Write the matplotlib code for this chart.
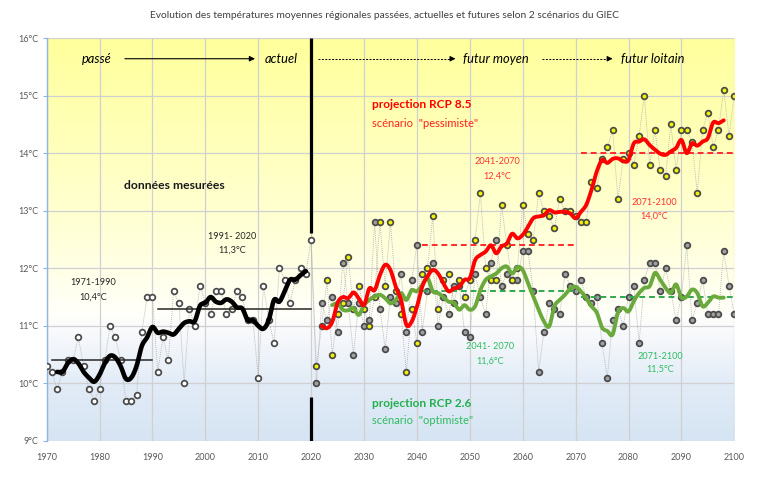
import numpy as np
import matplotlib
matplotlib.use("Agg")
import matplotlib.pyplot as plt

plt.rcParams['font.family'] = ['Lato', 'DejaVu Sans']

# ---------------- data ----------------
past_years = list(range(1970, 2021))
past_vals = [10.3, 10.2, 9.9, 10.2, 10.4, 10.4, 10.8, 10.3, 9.9, 9.7,
             9.9, 10.4, 11.0, 10.8, 10.4, 9.7, 9.7, 9.8, 10.9, 11.5,
             11.5, 10.2, 10.8, 10.4, 11.6, 11.4, 10.0, 11.3, 11.0, 11.7,
             11.4, 11.2, 11.6, 11.6, 11.2, 11.3, 11.6, 11.5, 11.1, 11.1,
             10.1, 11.7, 11.1, 10.7, 12.0, 11.8, 11.4, 11.8, 12.0, 11.9,
             12.5]
past_smooth_years = list(range(1972, 2020))
past_smooth = [10.20, 10.20, 10.35, 10.42, 10.35, 10.20, 10.10, 10.03, 10.15, 10.35,
               10.48, 10.45, 10.30, 10.08, 10.10, 10.30, 10.65, 10.80, 10.98, 10.88,
               10.90, 10.88, 10.85, 10.95, 11.05, 11.08, 11.08, 11.35, 11.40, 11.50,
               11.42, 11.40, 11.46, 11.42, 11.32, 11.30, 11.10, 11.10, 11.00, 10.95,
               11.10, 11.45, 11.42, 11.60, 11.80, 11.80, 11.88, 11.95]

fut_years = list(range(2021, 2101))
rcp85_vals = [10.3, 11.0, 11.8, 10.5, 11.2, 11.4, 12.2, 11.3, 11.7, 11.3,
              11.0, 11.5, 12.8, 11.7, 12.8, 11.6, 11.2, 10.2, 11.3, 10.7,
              11.9, 12.0, 12.9, 11.3, 11.8, 11.9, 11.4, 11.8, 11.5, 11.8,
              12.5, 13.3, 12.0, 11.8, 11.8, 13.1, 12.4, 11.8, 12.0, 13.1,
              12.6, 12.5, 13.3, 13.0, 12.9, 12.7, 13.2, 13.0, 13.0, 12.9,
              12.8, 12.8, 13.5, 13.4, 13.9, 14.1, 14.4, 13.2, 13.9, 14.0,
              13.8, 14.3, 15.0, 13.8, 14.4, 13.7, 13.6, 14.5, 13.7, 14.4,
              14.4, 14.2, 13.3, 14.4, 14.7, 14.1, 14.4, 15.1, 14.3, 15.0]
rcp26_vals = [10.0, 11.4, 11.1, 11.5, 10.9, 12.1, 11.4, 10.5, 11.4, 11.0,
              11.1, 12.8, 11.3, 10.6, 11.5, 11.4, 11.9, 10.9, 11.8, 12.4,
              10.9, 11.6, 12.1, 11.0, 11.5, 11.2, 11.7, 11.7, 10.9, 10.8,
              11.9, 11.5, 11.2, 12.1, 12.5, 11.7, 11.9, 11.8, 11.8, 12.3,
              12.3, 11.6, 10.2, 10.9, 11.4, 11.3, 11.2, 11.9, 11.7, 11.6,
              11.8, 11.5, 11.4, 11.5, 10.7, 10.1, 11.1, 11.3, 11.0, 11.5,
              11.7, 10.7, 11.8, 12.1, 12.1, 11.6, 12.0, 11.6, 11.1, 11.5,
              12.4, 11.1, 11.4, 11.8, 11.2, 11.2, 11.2, 12.3, 11.7, 11.2]

rcp85_smooth_years = list(range(2022, 2099))
rcp85_smooth = [11.00, 10.96, 11.07, 11.40, 11.50, 11.48, 11.58, 11.48, 11.36, 11.65,
                11.62, 11.88, 12.06, 11.97, 11.68, 11.45, 11.02, 11.07, 11.33, 11.68,
                11.86, 11.97, 11.91, 11.74, 11.60, 11.65, 11.68, 11.80, 11.83, 12.14,
                12.23, 12.29, 12.40, 12.26, 12.38, 12.43, 12.60, 12.52, 12.58, 12.72,
                12.87, 12.90, 12.92, 13.01, 12.97, 12.98, 12.98, 12.95, 12.87, 12.98,
                13.10, 13.36, 13.68, 13.88, 13.83, 13.90, 13.91, 13.86, 13.88, 14.17,
                14.20, 14.24, 14.14, 14.06, 13.99, 13.97, 14.03, 14.09, 14.23, 14.00,
                14.17, 14.13, 14.20, 14.26, 14.53, 14.52, 14.57]
rcp26_smooth_years = list(range(2024, 2099))
rcp26_smooth = [11.36, 11.39, 11.28, 11.27, 11.31, 11.19, 11.36, 11.45, 11.51, 11.54,
                11.48, 11.39, 11.45, 11.57, 11.45, 11.62, 11.60, 11.71, 11.83, 11.60,
                11.57, 11.50, 11.42, 11.40, 11.28, 11.36, 11.28, 11.34, 11.62, 11.80,
                11.86, 11.91, 12.00, 12.03, 11.91, 12.02, 11.97, 11.74, 11.51, 11.28,
                11.08, 10.99, 11.34, 11.45, 11.54, 11.65, 11.68, 11.60, 11.48, 11.34,
                11.23, 10.97, 10.91, 10.85, 11.23, 11.31, 11.25, 11.43, 11.57, 11.66,
                11.69, 11.92, 11.80, 11.66, 11.57, 11.72, 11.49, 11.51, 11.63, 11.57,
                11.34, 11.40, 11.51, 11.49, 11.49]

# period means: (start, end, value)
past_means = [(1971, 1990, 10.4), (1991, 2020, 11.3)]
rcp85_means = [(2041, 2070, 12.4), (2071, 2100, 14.0)]
rcp26_means = [(2041, 2070, 11.6), (2071, 2100, 11.5)]

x_ticks = list(range(1970, 2101, 10))
y_ticks = list(range(9, 17))
y_labels = [f"{t}°C" for t in y_ticks]


def catmull(xs, ys, n=12):
    xs = np.asarray(xs, float); ys = np.asarray(ys, float)
    px = np.concatenate([[2*xs[0]-xs[1]], xs, [2*xs[-1]-xs[-2]]])
    py = np.concatenate([[2*ys[0]-ys[1]], ys, [2*ys[-1]-ys[-2]]])
    ox, oy = [], []
    for i in range(1, len(px)-2):
        t = np.linspace(0, 1, n, endpoint=False)
        for P, out in ((px, ox), (py, oy)):
            p0, p1, p2, p3 = P[i-1], P[i], P[i+1], P[i+2]
            out.extend(0.5*((2*p1) + (-p0+p2)*t + (2*p0-5*p1+4*p2-p3)*t**2 + (-p0+3*p1-3*p2+p3)*t**3))
    ox.append(xs[-1]); oy.append(ys[-1])
    return ox, oy


W, H = 769, 493
fig = plt.figure(figsize=(W/100, H/100), dpi=100)
ax = fig.add_axes([46.6/W, (H-441)/H, (734.3-46.6)/W, 403/H])
ax.set_xlim(1970, 2100)
ax.set_ylim(9, 16)

# background gradient
ty = np.linspace(9, 16, 400)
stops_t = [9, 10, 10.8, 11.2, 12.5, 14, 16]
stops_r = [214, 226, 246, 255, 255, 255, 255]
stops_g = [228, 236, 248, 255, 255, 255, 255]
stops_b = [243, 247, 252, 250, 218, 190, 156]
grad = np.stack([np.interp(ty, stops_t, stops_r), np.interp(ty, stops_t, stops_g),
                 np.interp(ty, stops_t, stops_b)], axis=-1)[:, None, :] / 255
ax.imshow(grad, extent=[1970, 2100, 9, 16], origin='lower', aspect='auto', zorder=0,
          interpolation='bilinear')

ax.set_xticks(x_ticks)
ax.set_yticks(y_ticks)
ax.set_yticklabels(y_labels)
ax.grid(True, color='#d0d0d0', lw=0.9)
ax.set_axisbelow(True)
for s in ['top', 'right', 'bottom']:
    ax.spines[s].set_visible(False)
ax.spines['left'].set_color('#8db4e2')
ax.spines['left'].set_linewidth(1.0)
ax.tick_params(axis='y', colors='#8db4e2', length=3, width=0.8, labelsize=6.5, labelcolor='#595959', pad=3)
ax.tick_params(axis='x', length=0, labelsize=6.5, labelcolor='#595959', pad=8.5)

# dotted connecting lines
dot_kw = dict(color='#b4b4b4', lw=0.6, ls=(0, (1.2, 1.2)), zorder=2)
ax.plot(past_years, past_vals, **dot_kw)
ax.plot([2020] + fut_years, [past_vals[-1]] + rcp85_vals, **dot_kw)
ax.plot([2020] + fut_years, [past_vals[-1]] + rcp26_vals, **dot_kw)

mk = dict(ls='none', marker='o', ms=4.1, mew=1.25, mec='#4a4a4a', zorder=3)
ax.plot(past_years, past_vals, mfc='white', **mk)
ax.plot(fut_years, rcp26_vals, mfc='#a0a0a0', **mk)
ax.plot(fut_years, rcp85_vals, mfc='#f2f200', **mk)

# means
for a, b, v in past_means:
    ax.plot([a, b], [v, v], color='#262626', lw=1.1, zorder=4)
for a, b, v in rcp85_means:
    ax.plot([a, b], [v, v], color='#ff2a2a', lw=1.4, ls=(0, (3, 2)), zorder=4)
for a, b, v in rcp26_means:
    ax.plot([a, b], [v, v], color='#2ea84f', lw=1.4, ls=(0, (3, 2)), zorder=4)

# smoothed curves
sx, sy = catmull(past_smooth_years, past_smooth)
ax.plot(sx, sy, color='black', lw=3.3, zorder=5, solid_capstyle='round')
sx, sy = catmull(rcp26_smooth_years, rcp26_smooth)
ax.plot(sx, sy, color='#6aaa3c', lw=2.8, zorder=5, solid_capstyle='round')
sx, sy = catmull(rcp85_smooth_years, rcp85_smooth)
ax.plot(sx, sy, color='#ff0000', lw=2.8, zorder=6, solid_capstyle='round')

# 2020 divider
ax.plot([2020, 2020], [12.62, 16], color='black', lw=2.3, zorder=7, solid_capstyle='butt')
ax.plot([2020, 2020], [9, 9.77], color='black', lw=2.3, zorder=7, solid_capstyle='butt')

# top arrows & labels
ya = 15.64
fs_top = 9.3
ax.text(1979.5, ya, 'passé', style='italic', fontsize=fs_top, ha='center', va='center', color='black')
ax.annotate('', xy=(2009.4, ya), xytext=(1984.8, ya),
            arrowprops=dict(arrowstyle='-|>', color='black', lw=0.8, mutation_scale=8, shrinkA=0, shrinkB=0))
ax.text(2014.3, ya, 'actuel', style='italic', fontsize=fs_top, ha='center', va='center', color='black')
ax.plot([2021.3, 2046.6], [ya, ya], color='black', lw=0.7, ls=(0, (2, 1.5)))
ax.annotate('', xy=(2047.3, ya), xytext=(2046.3, ya),
            arrowprops=dict(arrowstyle='-|>', color='black', lw=0.7, mutation_scale=8, shrinkA=0, shrinkB=0))
ax.text(2055.0, ya, 'futur moyen', style='italic', fontsize=fs_top, ha='center', va='center', color='black')
ax.plot([2063.6, 2076.3], [ya, ya], color='black', lw=0.7, ls=(0, (2, 1.5)))
ax.annotate('', xy=(2077.0, ya), xytext=(2076.0, ya),
            arrowprops=dict(arrowstyle='-|>', color='black', lw=0.7, mutation_scale=8, shrinkA=0, shrinkB=0))
ax.text(2084.6, ya, 'futur loitain', style='italic', fontsize=fs_top, ha='center', va='center', color='black')

# annotations
ax.text(1994.1, 13.43, 'données mesurées', fontsize=8.7, fontweight='bold', ha='center', va='center', color='#1a1a1a')
ax.text(2005.0, 12.55, '1991- 2020', fontsize=6.6, ha='center', va='center', color='#262626')
ax.text(2005.0, 12.32, '11,3°C', fontsize=6.6, ha='center', va='center', color='#262626')
ax.text(1978.8, 11.75, '1971-1990', fontsize=6.6, ha='center', va='center', color='#262626')
ax.text(1978.8, 11.5, '10,4°C', fontsize=6.6, ha='center', va='center', color='#262626')

ax.text(2031.5, 14.84, 'projection RCP 8.5', fontsize=8.6, fontweight='bold', ha='left', va='center', color='#ff0000')
ax.text(2031.5, 14.51, 'scénario  "pessimiste"', fontsize=8.0, ha='left', va='center', color='#ff2020')
ax.text(2055.2, 13.85, '2041-2070', fontsize=6.6, ha='center', va='center', color='#ff3030')
ax.text(2055.2, 13.6, '12,4°C', fontsize=6.6, ha='center', va='center', color='#ff3030')
ax.text(2084.8, 13.14, '2071-2100', fontsize=6.6, ha='center', va='center', color='#ff3030')
ax.text(2084.8, 12.9, '14,0°C', fontsize=6.6, ha='center', va='center', color='#ff3030')

ax.text(2053.8, 10.64, '2041- 2070', fontsize=6.6, ha='center', va='center', color='#2ebc5e')
ax.text(2053.8, 10.39, '11,6°C', fontsize=6.6, ha='center', va='center', color='#2ebc5e')
ax.text(2086.0, 10.46, '2071-2100', fontsize=6.6, ha='center', va='center', color='#2ebc5e')
ax.text(2086.0, 10.24, '11,5°C', fontsize=6.6, ha='center', va='center', color='#2ebc5e')
ax.text(2031.5, 9.66, 'projection RCP 2.6', fontsize=8.6, fontweight='bold', ha='left', va='center', color='#22b04f')
ax.text(2031.5, 9.35, 'scénario  "optimiste"', fontsize=8.0, ha='left', va='center', color='#2ebc5e')

fig.text(0.5, 1 - 15/H, 'Evolution des températures moyennes régionales passées, actuelles et futures selon 2 scénarios du GIEC',
         ha='center', va='center', fontsize=7.4, color='#404040')

fig.savefig('out.png', dpi=100)
